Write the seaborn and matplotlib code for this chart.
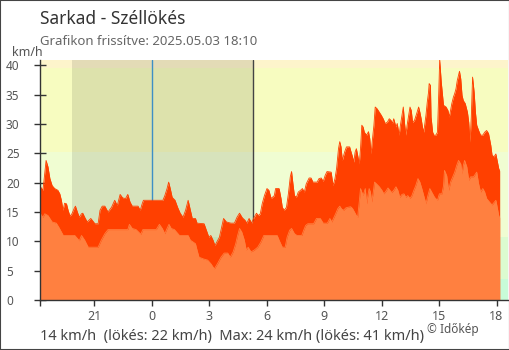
import numpy as np
import pandas as pd
import matplotlib
matplotlib.use("Agg")
import matplotlib.pyplot as plt
from matplotlib.patches import Rectangle
import seaborn as sns

# ---------------- data ----------------
station = "Sarkad"
updated = "2025.05.03 18:10"
start_hour = 18 + 10 / 60 - 24          # 18:10 previous day, hours relative to midnight
sunset_hour = 19 + 49 / 60 - 24
sunrise_hour = 5 + 16 / 60

# gust (km/h): minutes since start, value
gust_min = [0, 9, 12, 19, 25, 31, 38, 46, 56, 62, 67, 72, 77, 83, 88, 94, 100, 107, 111, 117,
            123, 130, 134, 140, 148, 159, 165, 172, 182, 188, 195, 203, 213, 224, 234, 242, 251,
            259, 268, 275, 282, 289, 307, 314, 320, 324, 385, 391, 398, 403, 408, 414, 423, 431,
            439, 448, 456, 464, 471, 477, 487, 492, 514, 523, 529, 535, 542, 548, 554, 562, 569,
            575, 584, 598, 609, 617, 625, 634, 642, 648, 655, 663, 669, 678, 684, 690, 696, 703,
            711, 717, 724, 734, 738, 749, 755, 759, 765, 772, 778, 784, 788, 793, 797, 803, 809,
            816, 822, 828, 834, 843, 849, 855, 868, 874, 881, 887, 893, 899, 912, 918, 924, 929,
            935, 939, 943, 947, 954, 960, 970, 973, 979, 983, 987, 991, 995, 1000, 1004, 1008,
            1012, 1016, 1023, 1029, 1033, 1037, 1041, 1046, 1050, 1056, 1063, 1069, 1075, 1081,
            1088, 1094, 1100, 1104, 1108, 1115, 1119, 1125, 1129, 1134, 1138, 1142, 1146, 1150,
            1154, 1159, 1163, 1167, 1173, 1180, 1186, 1190, 1194, 1198, 1202, 1209, 1213, 1217,
            1219, 1223, 1225, 1230, 1234, 1240, 1245, 1249, 1252, 1257, 1264, 1272, 1278, 1282,
            1286, 1290, 1295, 1299, 1303, 1307, 1311, 1314, 1318, 1322, 1326, 1332, 1339, 1343,
            1347, 1351, 1355, 1360, 1364, 1368, 1374, 1380, 1387, 1393, 1399, 1405, 1412, 1416,
            1422, 1428, 1433, 1437, 1440]
gust_kmh = [19.4, 18.7, 20.1, 23.8, 22.7, 20.7, 19.5, 19.0, 18.7, 18.1, 17.0, 15.3, 16.5, 16.4,
            15.3, 14.3, 14.7, 15.6, 16.0, 15.0, 14.1, 14.7, 14.8, 14.1, 13.3, 13.9, 13.5, 13.0,
            13.0, 15.3, 16.0, 16.0, 15.0, 15.8, 17.0, 16.1, 18.0, 17.4, 17.3, 18.0, 16.7, 16.0,
            16.0, 15.3, 16.4, 17.0, 17.0, 17.8, 19.0, 20.1, 19.0, 17.5, 17.0, 15.8, 14.8, 14.1,
            15.3, 17.0, 15.3, 13.9, 13.9, 13.1, 13.0, 11.6, 10.7, 11.0, 10.2, 9.3, 9.9, 10.7,
            12.4, 13.9, 13.3, 13.1, 13.1, 14.1, 14.8, 14.0, 13.6, 13.1, 13.9, 13.1, 13.9, 14.8,
            14.4, 14.7, 16.4, 17.8, 19.0, 18.7, 17.3, 17.8, 19.0, 19.0, 17.3, 15.8, 15.3, 15.8,
            18.1, 21.0, 21.9, 19.5, 17.8, 17.5, 18.4, 18.7, 19.0, 18.4, 19.8, 20.8, 20.8, 20.1,
            20.1, 20.7, 20.8, 20.2, 21.2, 21.9, 21.8, 19.5, 20.7, 22.4, 25.8, 27.0, 26.1, 23.8,
            25.2, 26.1, 26.1, 25.5, 24.4, 23.5, 25.2, 25.8, 24.7, 23.2, 25.8, 29.8, 29.5, 28.6,
            28.1, 28.7, 27.5, 24.9, 27.2, 29.8, 32.9, 32.6, 32.0, 31.5, 30.9, 30.1, 30.3, 30.9,
            30.6, 30.1, 30.9, 29.5, 30.1, 28.1, 29.8, 31.5, 32.9, 30.1, 28.1, 29.8, 31.2, 32.9,
            32.3, 30.3, 30.6, 31.8, 32.9, 32.0, 30.9, 29.5, 28.6, 31.5, 33.7, 35.4, 36.9, 36.6,
            31.2, 28.6, 28.1, 28.1, 28.6, 35.2, 41.0, 37.1, 33.2, 32.9, 32.3, 31.2, 32.3, 33.5,
            34.6, 35.2, 36.0, 37.4, 38.3, 39.0, 37.7, 34.9, 34.0, 33.5, 32.0, 30.3, 26.9, 31.2,
            38.0, 35.4, 32.0, 29.8, 28.9, 28.1, 28.1, 28.6, 28.9, 28.4, 26.4, 24.7, 24.4, 24.9,
            23.5, 22.4, 22.0]

# average wind (km/h): minutes since start, value
avg_min = [0, 9, 15, 25, 31, 38, 51, 59, 67, 73, 109, 117, 123, 130, 140, 151, 182, 192, 203,
           213, 275, 280, 289, 301, 312, 316, 322, 364, 374, 383, 391, 398, 404, 411, 421, 432,
           437, 464, 471, 479, 487, 492, 498, 512, 525, 535, 546, 556, 567, 577, 588, 596, 605,
           613, 619, 625, 632, 640, 646, 652, 661, 671, 682, 692, 701, 743, 749, 759, 768, 774,
           782, 788, 797, 805, 820, 826, 832, 839, 857, 866, 878, 887, 900, 908, 914, 920, 926,
           933, 939, 945, 951, 958, 964, 973, 979, 985, 991, 995, 1000, 1004, 1008, 1012, 1019,
           1023, 1027, 1031, 1035, 1039, 1044, 1048, 1054, 1063, 1071, 1077, 1083, 1090, 1096,
           1102, 1108, 1115, 1121, 1127, 1134, 1140, 1146, 1152, 1159, 1165, 1171, 1177, 1184,
           1190, 1196, 1202, 1209, 1215, 1221, 1230, 1236, 1245, 1251, 1259, 1264, 1267, 1274,
           1280, 1286, 1293, 1299, 1305, 1311, 1318, 1322, 1326, 1330, 1337, 1343, 1349, 1358,
           1364, 1368, 1374, 1380, 1387, 1393, 1399, 1408, 1416, 1422, 1428, 1433, 1437, 1440]
avg_kmh = [14.8, 14.1, 14.7, 14.4, 13.9, 13.3, 13.1, 12.4, 11.6, 11.0, 11.0, 10.5, 10.1, 11.0,
           10.2, 9.0, 9.0, 10.2, 11.3, 12.0, 12.0, 12.9, 12.2, 12.0, 11.4, 11.2, 12.0, 12.0,
           12.9, 12.2, 11.3, 12.2, 12.9, 12.2, 12.0, 11.3, 11.0, 11.0, 10.2, 9.9, 9.6, 8.5, 7.3,
           7.0, 6.8, 6.2, 5.3, 6.2, 7.3, 8.0, 8.0, 7.3, 8.2, 9.6, 11.0, 12.2, 11.6, 10.2, 8.5,
           9.0, 8.2, 8.5, 9.0, 9.9, 11.0, 11.0, 10.2, 9.0, 9.0, 10.7, 11.9, 12.2, 11.3, 11.0,
           11.0, 11.9, 12.7, 13.0, 13.0, 13.9, 13.9, 13.1, 13.1, 13.9, 13.3, 14.0, 14.7, 15.6,
           16.0, 15.5, 15.3, 15.7, 15.8, 15.9, 15.6, 15.0, 14.4, 14.1, 16.7, 19.0, 18.4, 17.8,
           19.0, 16.4, 17.8, 19.0, 18.4, 16.7, 18.4, 20.1, 19.8, 19.3, 18.7, 18.1, 18.5, 19.1,
           18.7, 18.3, 18.7, 19.3, 18.7, 17.5, 18.0, 18.1, 17.5, 17.8, 17.3, 17.8, 18.7, 19.5,
           20.7, 20.1, 19.0, 17.8, 16.4, 17.8, 19.0, 18.1, 17.5, 17.0, 18.1, 18.1, 19.5, 22.1,
           21.2, 18.7, 20.1, 21.0, 21.8, 22.9, 23.8, 23.2, 21.5, 22.9, 23.8, 22.7, 20.4, 21.0,
           21.0, 21.5, 21.8, 19.8, 18.4, 19.0, 18.4, 17.3, 16.7, 16.2, 16.6, 17.0, 15.6, 14.4,
           14.0]

# summary
now_avg, now_gust, max_avg, max_gust = 14, 22, 24, 41

# tick labels
xtick_hours = [-3, 0, 3, 6, 9, 12, 15, 18]
xtick_labels = ["21", "0", "3", "6", "9", "12", "15", "18"]
ytick_values = [0, 5, 10, 15, 20, 25, 30, 35, 40]

# background wind bands (km/h) and colours
band_edges = [0, 3.6, 10.8, 25.2, 39.6, 41]
band_colors = ["#c8fcd8", "#dcfcd0", "#f0fdd2", "#f7fcc0", "#fdf4cb"]

# ---------------- plot ----------------
sns.set_theme(style="white")
plt.rcParams["font.family"] = ["Noto Sans", "DejaVu Sans"]

gust_df = pd.DataFrame({"h": start_hour + np.array(gust_min) / 60, "v": gust_kmh})
avg_df = pd.DataFrame({"h": start_hour + np.array(avg_min) / 60, "v": avg_kmh})

fig = plt.figure(figsize=(5.1, 3.5), dpi=100)
fig.patch.set_facecolor("white")
ax = fig.add_axes([40 / 510, 50 / 350, 468 / 510, 240.5 / 350])
ax.set_facecolor("white")

for lo, hi, c in zip(band_edges[:-1], band_edges[1:], band_colors):
    ax.axhspan(lo, hi, color=c, lw=0, zorder=0)
ax.axvspan(sunset_hour, sunrise_hour, color="black", alpha=0.1, lw=0, zorder=0.5)
ax.axvline(0, color="#3d8fc6", lw=1, zorder=1)
ax.axvline(sunrise_hour, color="#444444", lw=1, zorder=1)

ax.fill_between(gust_df["h"], gust_df["v"], 0, color="#ff4000", lw=0, zorder=2)
sns.lineplot(data=gust_df, x="h", y="v", ax=ax, color="#ff4000", lw=0.6, zorder=2)
ax.fill_between(avg_df["h"], avg_df["v"], 0, color="#ff8040", lw=0, zorder=3)
sns.lineplot(data=avg_df, x="h", y="v", ax=ax, color="#ff8040", lw=0.6, zorder=3)

ax.set_xlim(start_hour, 18.6)
ax.set_ylim(0, 41)
ax.set_xlabel("")
ax.set_ylabel("")

ax.set_xticks([start_hour] + xtick_hours)
ax.set_xticklabels([""] + xtick_labels)
ax.set_yticks(ytick_values)
ax.set_yticklabels([str(v) for v in ytick_values])

ax.tick_params(axis="x", direction="out", length=4.5, width=1, color="#333333",
               labelcolor="#555555", labelsize=9, pad=3, bottom=True)
ax.tick_params(axis="y", direction="inout", length=8.6, width=1, color="#333333",
               labelcolor="#555555", labelsize=8.5, pad=20.2, left=True)
for lbl in ax.get_yticklabels():
    lbl.set_horizontalalignment("left")
ticks = ax.xaxis.get_major_ticks()
ticks[2].tick1line.set_color("#3d8fc6")

for s in ["top", "right"]:
    ax.spines[s].set_visible(False)
for s in ["left", "bottom"]:
    ax.spines[s].set_color("#333333")
    ax.spines[s].set_linewidth(1)
    ax.spines[s].set_zorder(5)

fig.text(40 / 510, 1 - 24 / 350, f"{station} - Széllökés", fontsize=12.5, color="#333333",
         va="baseline")
fig.text(40 / 510, 1 - 45 / 350, f"Grafikon frissítve: {updated}", fontsize=9.5,
         color="#666666", va="baseline")
fig.text(12 / 510, 1 - 56 / 350, "km/h", fontsize=9, color="#555555", va="baseline")
fig.text(40 / 510, 1 - 340 / 350,
         f"{now_avg} km/h  (lökés: {now_gust} km/h)  Max: {max_avg} km/h (lökés: {max_gust} km/h)",
         fontsize=10.5, color="#444444", va="baseline")
fig.text(427 / 510, 1 - 333 / 350, "© Időkép", fontsize=8.5, color="#555555", va="baseline")

fig.patches.append(Rectangle((0, 0), 1, 1, transform=fig.transFigure, fill=False,
                             edgecolor="#444444", lw=1.5))

fig.savefig("out.png", dpi=100)
